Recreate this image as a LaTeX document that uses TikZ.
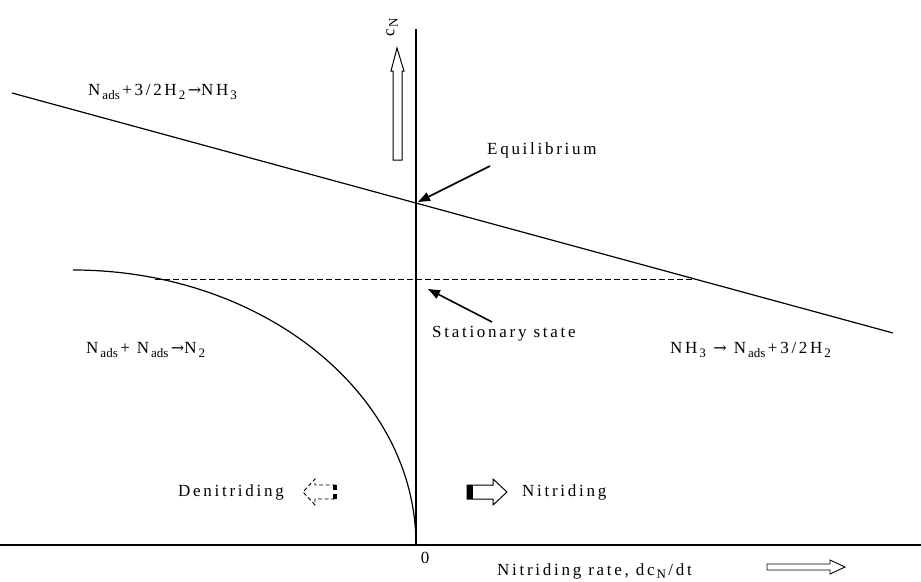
\documentclass[tikz,border=0pt]{standalone}
\usepackage{fontspec}
\setmainfont{Liberation Serif}[LetterSpace=16]
\newfontfamily\subf{Liberation Serif}
\newfontfamily\arrf{DejaVu Serif}
\usetikzlibrary{arrows.meta}
\newcommand\lsub[1]{\kern2pt\raisebox{-0.45ex}{\fontsize{13}{14}\subf #1}\kern2.5pt}
\newcommand\rarr{{\arrf\fontsize{16}{18}\selectfont →}}
\tikzset{
  lbl/.style={inner sep=0pt, font=\fontsize{17}{20}\selectfont, anchor=west},
  pointer/.style={line width=1.6pt, -{Triangle[length=12pt,width=9pt]}},
  hollow/.style={draw=black, line width=1pt, fill=white, line join=miter},
}
\begin{document}
\begin{tikzpicture}[x=1pt,y=-1pt]
\useasboundingbox (0,0) rectangle (921,581);
% axes
\coordinate (xa0) at (0,545);
\coordinate (xa1) at (921,545);
\coordinate (ya0) at (416,546);
\coordinate (ya1) at (416,29);
\draw[line width=1.6pt] (xa0) -- (xa1);
\draw[line width=2.6pt] (ya0) -- (ya1);
% equilibrium line
\coordinate (L0) at (12,93);
\coordinate (L1) at (893,333);
\draw[line width=1.2pt] (L0) -- (L1);
% dashed stationary line
\coordinate (D0) at (155,279);
\coordinate (D1) at (697,279);
\draw[line width=1pt, dash pattern=on 6pt off 3pt] (D0) -- (D1);
% curve
\coordinate (C0) at (73,270);
\coordinate (C1) at (416,545);
\draw[line width=1.2pt] (C0) .. controls (262,270) and (416,393) .. (C1);
% labels
\node[lbl] (r1) at (88,92) {N\lsub{ads}+3/2H\lsub{2}\rarr NH\lsub{3}};
\node[lbl] (r2) at (86,350) {N\lsub{ads}+ N\lsub{ads}\rarr N\lsub{2}};
\node[lbl] (r3) at (670,350) {NH\lsub{3}\hspace{5pt}\rarr\hspace{7pt}N\lsub{ads}+3/2H\lsub{2}};
\node[lbl] (eq) at (487,150) {Equilibrium};
\node[lbl] (st) at (432,334) {Stationary state};
\node[lbl] (den) at (178,492) {Denitriding};
\node[lbl] (nit) at (522,492) {Nitriding};
\node[lbl, anchor=center] (zero) at (425,558) {0};
\node[lbl] (rate) at (497,571) {Nitriding rate, dc\lsub{N}/dt};
\node[lbl, anchor=center, rotate=90] (cn) at (392,26) {c\lsub{N}};
% pointers
\coordinate (eqtip) at (418,202);
\coordinate (sttip) at (428,289);
\coordinate (eqtail) at (490,166);
\coordinate (sttail) at (492,322);
\draw[pointer] (eqtail) -- (eqtip);
\draw[pointer] (sttail) -- (sttip);
% up hollow arrow
\draw[hollow] (393,160) -- (393,71) -- (391,71) -- (397,48) -- (404,71) -- (402,71) -- (402,160) -- cycle;
% bottom right hollow arrow
\draw[hollow, line width=0.9pt] (767,564) -- (830,564) -- (830,560) -- (845,567) -- (830,574) -- (830,570) -- (767,570) -- cycle;
% nitriding arrow
\draw[hollow] (467,485) -- (493,485) -- (493,479) -- (507,492) -- (493,505) -- (493,499) -- (467,499) -- cycle;
\fill (467,485) rectangle (473,499);
% denitriding dashed arrow
\draw[line width=0.9pt, dash pattern=on 4pt off 2.5pt] (336,485) -- (315,485) -- (315,479) -- (303,492) -- (315,505) -- (315,499) -- (336,499);
\fill (333,485) rectangle (337,490);
\fill (333,494) rectangle (337,499);
\end{tikzpicture}
\end{document}
